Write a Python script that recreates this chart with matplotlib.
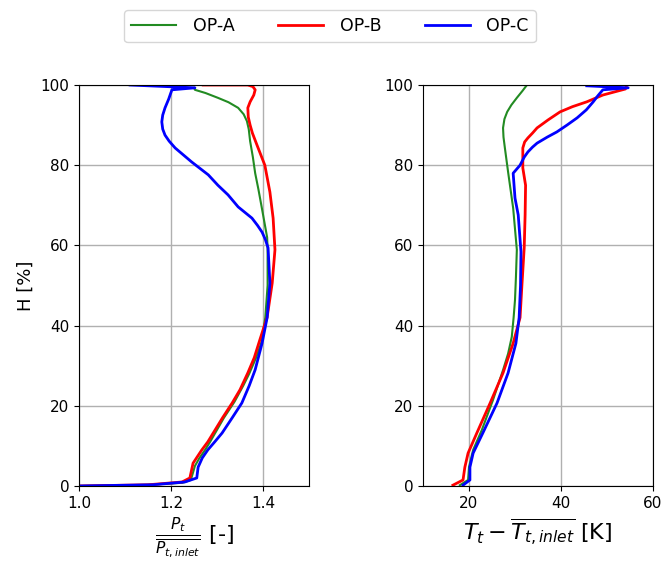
import matplotlib
matplotlib.use("Agg")
import matplotlib.pyplot as plt

# left panel: total pressure ratio vs span
H_a_p = [0, 0.3, 0.8, 1.5, 3, 5, 7, 9, 11, 14, 17, 21, 25, 28, 32, 36, 42, 50, 59, 62, 69, 74, 78, 82, 86, 89, 91, 92.7, 94.3, 95.7, 96.8, 98, 98.8, 99.3]
P_a = [1.0, 1.15, 1.225, 1.243, 1.247, 1.252, 1.262, 1.274, 1.285, 1.30, 1.315, 1.338, 1.357, 1.37, 1.385, 1.397, 1.405, 1.41, 1.41, 1.409, 1.398, 1.39, 1.383, 1.378, 1.372, 1.369, 1.365, 1.358, 1.346, 1.325, 1.302, 1.275, 1.252, 1.25]

H_b_p = [0, 0.3, 1, 2, 5.7, 9, 11, 14, 17, 20.7, 24, 28.2, 32, 36.4, 42.1, 50.6, 58.9, 66.8, 73.3, 80, 85, 88, 90, 92, 94.3, 95.8, 97.5, 98.8, 99.6, 100, 100]
P_b = [1.0, 1.15, 1.224, 1.241, 1.248, 1.267, 1.28, 1.296, 1.312, 1.333, 1.35, 1.367, 1.381, 1.393, 1.409, 1.42, 1.426, 1.422, 1.415, 1.404, 1.387, 1.377, 1.372, 1.368, 1.367, 1.372, 1.38, 1.383, 1.378, 1.367, 1.27]

H_c_p = [0, 0.3, 1, 2, 4.7, 7, 9, 11, 13.2, 17, 20.7, 25, 29, 35.6, 42, 50.6, 59.4, 61.5, 63.3, 65, 66.8, 69.6, 72.6, 75, 77.6, 80.8, 84.3, 86, 87.5, 89, 90.8, 92.5, 94.3, 96.5, 98.8, 99.3, 100]
P_c = [1.0, 1.16, 1.23, 1.256, 1.259, 1.268, 1.28, 1.295, 1.311, 1.333, 1.354, 1.37, 1.383, 1.398, 1.409, 1.415, 1.411, 1.405, 1.398, 1.388, 1.376, 1.346, 1.324, 1.302, 1.281, 1.245, 1.209, 1.196, 1.187, 1.182, 1.18, 1.182, 1.187, 1.195, 1.202, 1.252, 1.111]

# right panel: total temperature rise vs span
H_a_t = [0.2, 1.5, 4.7, 9, 14, 21.4, 28.9, 33, 37.2, 42, 46.4, 52, 58.9, 69.3, 78.3, 84.3, 87, 89.3, 91.5, 93.3, 95, 96.8, 98.5, 100]
T_a = [18.0, 19.8, 20.0, 20.9, 22.8, 25.2, 27.4, 28.5, 29.3, 29.7, 30.0, 30.2, 30.4, 29.6, 28.5, 27.8, 27.5, 27.4, 27.7, 28.3, 29.2, 30.4, 31.6, 32.6]

H_b_t = [0.2, 1.5, 4.7, 8.2, 13.2, 20.7, 28.2, 35.6, 42, 50, 59.4, 67.6, 75, 79.3, 84.3, 85.8, 86.8, 88, 89.3, 91.3, 93.3, 94.6, 95.8, 97.5, 99, 100]
T_b = [16.5, 18.7, 19.1, 19.8, 21.7, 24.6, 27.4, 29.6, 31.1, 31.5, 32.0, 32.2, 32.3, 31.7, 31.7, 32.1, 32.8, 33.8, 34.8, 37.2, 39.8, 42.5, 45.6, 49.1, 54.0, 54.3]

H_c_t = [0.2, 1.5, 4.7, 8.2, 13.2, 20.7, 28.2, 35.6, 42, 50, 58.4, 67.6, 71.8, 78, 80, 82, 83.3, 84.5, 85.5, 87, 88.3, 90, 91.8, 93.8, 95.8, 97.3, 98.8, 99.3, 99.8]
T_c = [18.7, 20.2, 20.2, 20.9, 23.0, 26.1, 28.5, 30.2, 30.9, 31.2, 31.3, 30.7, 30.0, 29.6, 31.1, 32.0, 32.8, 33.8, 34.8, 37.0, 39.1, 41.3, 43.5, 45.5, 47.0, 48.0, 49.1, 54.6, 45.6]

labels = ["OP-A", "OP-B", "OP-C"]
colors = ["forestgreen", "red", "blue"]
widths = [1.5, 2.0, 2.0]

fig = plt.figure(figsize=(6.64, 5.64), dpi=100)
ax1 = fig.add_axes([79 / 664, 78 / 564, 230 / 664, 401 / 564])
ax2 = fig.add_axes([423 / 664, 78 / 564, 230 / 664, 401 / 564])

for H, P, lab, c, lw in zip([H_a_p, H_b_p, H_c_p], [P_a, P_b, P_c], labels, colors, widths):
    ax1.plot(P, H, color=c, lw=lw, label=lab)
for H, T, c, lw in zip([H_a_t, H_b_t, H_c_t], [T_a, T_b, T_c], colors, widths):
    ax2.plot(T, H, color=c, lw=lw)

ax1.set_xlim(1.0, 1.5)
ax1.set_xticks([1.0, 1.2, 1.4])
ax2.set_xlim(10, 60)
ax2.set_xticks([20, 40, 60])
for ax in (ax1, ax2):
    ax.set_ylim(0, 100)
    ax.set_yticks([0, 20, 40, 60, 80, 100])
    ax.grid(True, color="#b0b0b0", lw=1)
    ax.tick_params(labelsize=11)

ax1.set_ylabel("H [%]", fontsize=13)
ax1.set_xlabel(r"$\frac{P_t}{\overline{P_{t,inlet}}}$ [-]", fontsize=16)
ax2.set_xlabel(r"$T_t - \overline{T_{t,inlet}}$ [K]", fontsize=16)

fig.legend(loc="upper center", ncol=3, fontsize=12.5, bbox_to_anchor=(0.497, 0.997),
           handlelength=2.6, columnspacing=2.5, handletextpad=0.95)

fig.savefig("out.png", dpi=100)
